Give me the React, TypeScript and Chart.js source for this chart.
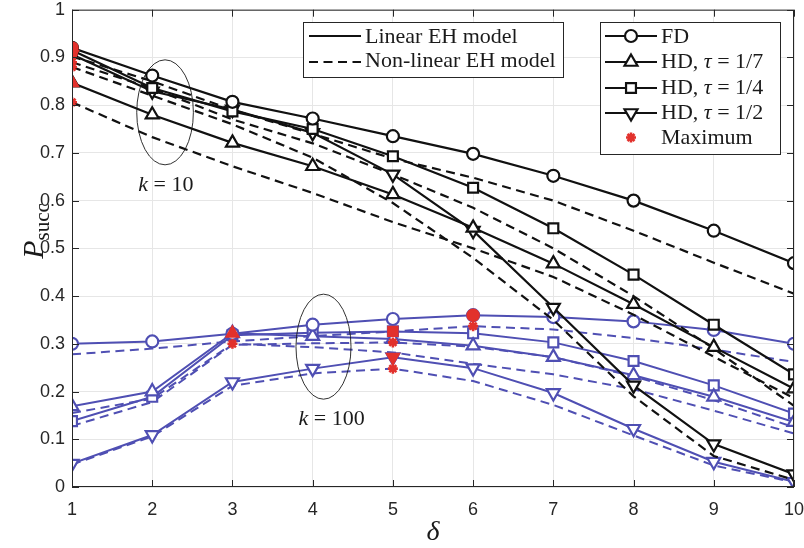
import React, { useEffect, useRef } from 'react';
import { Chart, registerables } from 'chart.js';

Chart.register(...registerables);

// ---------- data ----------
const deltas = [1, 2, 3, 4, 5, 6, 7, 8, 9, 10];
const xTickLabels = ['1', '2', '3', '4', '5', '6', '7', '8', '9', '10'];
const yTickLabels = ['0', '0.1', '0.2', '0.3', '0.4', '0.5', '0.6', '0.7', '0.8', '0.9', '1'];

// k = 10, linear EH model (solid)
const fdLin10 = [0.92, 0.862, 0.807, 0.772, 0.735, 0.698, 0.652, 0.6, 0.537, 0.469];
const hd7Lin10 = [0.847, 0.78, 0.721, 0.672, 0.613, 0.543, 0.468, 0.383, 0.293, 0.206];
const hd4Lin10 = [0.915, 0.836, 0.787, 0.75, 0.693, 0.627, 0.542, 0.445, 0.34, 0.236];
const hd2Lin10 = [0.906, 0.829, 0.791, 0.742, 0.655, 0.537, 0.376, 0.213, 0.09, 0.027];
// k = 10, non-linear EH model (dashed)
const fdNl10 = [0.902, 0.85, 0.79, 0.74, 0.688, 0.648, 0.6, 0.537, 0.47, 0.405];
const hd7Nl10 = [0.806, 0.733, 0.672, 0.616, 0.555, 0.5, 0.44, 0.361, 0.273, 0.186];
const hd4Nl10 = [0.89, 0.835, 0.77, 0.72, 0.655, 0.585, 0.5, 0.4, 0.29, 0.17];
const hd2Nl10 = [0.88, 0.82, 0.76, 0.69, 0.595, 0.48, 0.35, 0.19, 0.065, 0.015];
// k = 100, linear EH model (solid)
const fdLin100 = [0.3, 0.305, 0.321, 0.34, 0.352, 0.36, 0.356, 0.347, 0.329, 0.3];
const hd7Lin100 = [0.169, 0.2, 0.322, 0.316, 0.31, 0.296, 0.272, 0.234, 0.189, 0.136];
const hd4Lin100 = [0.138, 0.189, 0.318, 0.323, 0.326, 0.322, 0.303, 0.264, 0.213, 0.154];
const hd2Lin100 = [0.049, 0.109, 0.22, 0.248, 0.272, 0.249, 0.197, 0.122, 0.053, 0.011];
// k = 100, non-linear EH model (dashed)
const fdNl100 = [0.278, 0.29, 0.305, 0.316, 0.326, 0.337, 0.33, 0.312, 0.288, 0.262];
const hd7Nl100 = [0.155, 0.185, 0.3, 0.293, 0.282, 0.258, 0.236, 0.205, 0.16, 0.112];
const hd4Nl100 = [0.128, 0.178, 0.298, 0.301, 0.303, 0.294, 0.272, 0.232, 0.182, 0.125];
const hd2Nl100 = [0.047, 0.106, 0.212, 0.238, 0.248, 0.222, 0.172, 0.108, 0.045, 0.01];

// ---------- styles ----------
const BLACK = '#111111';
const BLUE = '#4f4fb3';
const RED = '#e2312c';
const AXIS = '#262626';
const GRID = '#e6e6e6';
const SERIF = '"Liberation Serif", "Times New Roman", serif';
const SANS = '"Liberation Sans", Arial, Helvetica, sans-serif';

type Def = { values: number[]; color: string; dashed: boolean; style: string; rot: number; r: number };

const defs: Def[] = [
  { values: fdLin10, color: BLACK, dashed: false, style: 'circle', rot: 0, r: 6 },
  { values: hd7Lin10, color: BLACK, dashed: false, style: 'triangle', rot: 0, r: 7.5 },
  { values: hd4Lin10, color: BLACK, dashed: false, style: 'rect', rot: 0, r: 7 },
  { values: hd2Lin10, color: BLACK, dashed: false, style: 'triangle', rot: 180, r: 7.5 },
  { values: fdNl10, color: BLACK, dashed: true, style: 'circle', rot: 0, r: 6 },
  { values: hd7Nl10, color: BLACK, dashed: true, style: 'triangle', rot: 0, r: 7.5 },
  { values: hd4Nl10, color: BLACK, dashed: true, style: 'rect', rot: 0, r: 7 },
  { values: hd2Nl10, color: BLACK, dashed: true, style: 'triangle', rot: 180, r: 7.5 },
  { values: fdLin100, color: BLUE, dashed: false, style: 'circle', rot: 0, r: 6 },
  { values: hd7Lin100, color: BLUE, dashed: false, style: 'triangle', rot: 0, r: 7.5 },
  { values: hd4Lin100, color: BLUE, dashed: false, style: 'rect', rot: 0, r: 7 },
  { values: hd2Lin100, color: BLUE, dashed: false, style: 'triangle', rot: 180, r: 7.5 },
  { values: fdNl100, color: BLUE, dashed: true, style: 'circle', rot: 0, r: 6 },
  { values: hd7Nl100, color: BLUE, dashed: true, style: 'triangle', rot: 0, r: 7.5 },
  { values: hd4Nl100, color: BLUE, dashed: true, style: 'rect', rot: 0, r: 7 },
  { values: hd2Nl100, color: BLUE, dashed: true, style: 'triangle', rot: 180, r: 7.5 },
];

// annotation placement (data units)
const ellipses = [
  { cx: 2.16, cy: 0.785, rx: 0.353, ry: 0.11 },
  { cx: 4.135, cy: 0.294, rx: 0.343, ry: 0.11 },
];
const kLabels = [
  { x: 2.17, y: 0.62, value: '10' },
  { x: 4.237, y: 0.129, value: '100' },
];

function argmax(a: number[]) {
  let b = 0;
  for (let i = 1; i < a.length; i++) if (a[i] > a[b]) b = i;
  return b;
}

function buildDatasets() {
  const lineSets = defs.map((d) => ({
    data: d.values.map((v, i) => ({ x: deltas[i], y: v })),
    borderColor: d.color,
    backgroundColor: '#ffffff',
    borderWidth: d.color === BLACK ? 2.2 : 2,
    borderDash: d.dashed ? [9, 5.5] : [],
    pointStyle: d.style,
    pointRotation: d.rot,
    pointRadius: d.dashed ? 0 : d.r,
    pointBorderWidth: 2.2,
    pointBackgroundColor: '#ffffff',
    pointBorderColor: d.color,
    tension: 0,
    fill: false,
    order: 2,
  }));
  const solid = defs.filter((d) => !d.dashed);
  const dashed = defs.filter((d) => d.dashed);
  const maxFilled = {
    data: solid.map((d) => {
      const i = argmax(d.values);
      return { x: deltas[i], y: d.values[i] };
    }),
    showLine: false,
    pointStyle: solid.map((d) => d.style),
    pointRotation: solid.map((d) => d.rot),
    pointRadius: solid.map((d) => d.r),
    pointBackgroundColor: RED,
    pointBorderColor: RED,
    pointBorderWidth: 1.5,
    order: 0,
  };
  const maxStars = {
    data: dashed.map((d) => {
      const i = argmax(d.values);
      return { x: deltas[i], y: d.values[i] };
    }),
    showLine: false,
    pointStyle: 'star',
    pointRadius: 5,
    pointBorderColor: RED,
    pointBackgroundColor: RED,
    pointBorderWidth: 2.6,
    order: 0,
  };
  return [maxStars, maxFilled, ...lineSets];
}

function drawMarker(ctx: CanvasRenderingContext2D, style: string, x: number, y: number, r: number, rot: number, stroke: string, fillC: string, lw: number) {
  ctx.save();
  ctx.lineWidth = lw;
  ctx.strokeStyle = stroke;
  ctx.fillStyle = fillC;
  ctx.setLineDash([]);
  ctx.beginPath();
  if (style === 'circle') {
    ctx.arc(x, y, r, 0, Math.PI * 2);
  } else if (style === 'rect') {
    const s = r * Math.SQRT1_2;
    ctx.rect(x - s, y - s, 2 * s, 2 * s);
  } else if (style === 'triangle') {
    let a = (rot * Math.PI) / 180;
    ctx.moveTo(x + Math.sin(a) * r, y - Math.cos(a) * r);
    a += (2 * Math.PI) / 3;
    ctx.lineTo(x + Math.sin(a) * r, y - Math.cos(a) * r);
    a += (2 * Math.PI) / 3;
    ctx.lineTo(x + Math.sin(a) * r, y - Math.cos(a) * r);
    ctx.closePath();
  } else if (style === 'star') {
    for (let k = 0; k < 4; k++) {
      const a = (k * Math.PI) / 4;
      ctx.moveTo(x - Math.cos(a) * r, y - Math.sin(a) * r);
      ctx.lineTo(x + Math.cos(a) * r, y + Math.sin(a) * r);
    }
  }
  if (style !== 'star') ctx.fill();
  ctx.stroke();
  ctx.restore();
}

type Part = { t: string; it?: boolean; size?: number; dy?: number };
function partsFont(p: Part, base: number) {
  return `${p.it ? 'italic ' : ''}${p.size ?? base}px ${SERIF}`;
}
function measureParts(ctx: CanvasRenderingContext2D, parts: Part[], base: number) {
  let w = 0;
  for (const p of parts) {
    ctx.font = partsFont(p, base);
    w += ctx.measureText(p.t).width;
  }
  return w;
}
function drawParts(ctx: CanvasRenderingContext2D, parts: Part[], x: number, y: number, base: number) {
  let cx = x;
  ctx.textBaseline = 'alphabetic';
  ctx.textAlign = 'left';
  for (const p of parts) {
    ctx.font = partsFont(p, base);
    ctx.fillText(p.t, cx, y + (p.dy ?? 0));
    cx += ctx.measureText(p.t).width;
  }
}

const decor = {
  id: 'decor',
  afterDatasetsDraw(chart: any) {
    const ctx: CanvasRenderingContext2D = chart.ctx;
    const xs = chart.scales.x;
    const ys = chart.scales.y;
    ctx.save();
    ctx.strokeStyle = '#1a1a1a';
    ctx.lineWidth = 0.9;
    ctx.setLineDash([]);
    for (const e of ellipses) {
      const cx = xs.getPixelForValue(e.cx);
      const cy = ys.getPixelForValue(e.cy);
      const rx = xs.getPixelForValue(e.cx + e.rx) - cx;
      const ry = cy - ys.getPixelForValue(e.cy + e.ry);
      ctx.beginPath();
      ctx.ellipse(cx, cy, rx, ry, 0, 0, Math.PI * 2);
      ctx.stroke();
    }
    ctx.fillStyle = '#1a1a1a';
    for (const k of kLabels) {
      const parts: Part[] = [{ t: 'k', it: true }, { t: ' = ' + k.value }];
      const w = measureParts(ctx, parts, 22);
      drawParts(ctx, parts, xs.getPixelForValue(k.x) - w / 2, ys.getPixelForValue(k.y), 22);
    }
    ctx.restore();
  },
  afterDraw(chart: any) {
    const ctx: CanvasRenderingContext2D = chart.ctx;
    const a = chart.chartArea;
    const xs = chart.scales.x;
    const ys = chart.scales.y;
    ctx.save();
    ctx.setLineDash([]);
    // box
    ctx.strokeStyle = AXIS;
    ctx.lineWidth = 1;
    ctx.strokeRect(a.left + 0.5, a.top + 0.5, a.right - a.left - 1, a.bottom - a.top - 1);
    // inward ticks
    ctx.beginPath();
    for (const d of deltas) {
      const px = Math.round(xs.getPixelForValue(d)) + 0.5;
      ctx.moveTo(px, a.bottom);
      ctx.lineTo(px, a.bottom - 7);
      ctx.moveTo(px, a.top);
      ctx.lineTo(px, a.top + 7);
    }
    for (let i = 0; i < yTickLabels.length; i++) {
      const py = Math.round(ys.getPixelForValue(i / 10)) + 0.5;
      ctx.moveTo(a.left, py);
      ctx.lineTo(a.left + 7, py);
      ctx.moveTo(a.right, py);
      ctx.lineTo(a.right - 7, py);
    }
    ctx.stroke();

    // legend 1: line styles
    ctx.fillStyle = '#ffffff';
    ctx.strokeStyle = AXIS;
    ctx.lineWidth = 1;
    ctx.fillRect(303, 22.5, 260, 55);
    ctx.strokeRect(303.5, 22.5, 260, 55);
    ctx.strokeStyle = BLACK;
    ctx.lineWidth = 2.2;
    ctx.beginPath();
    ctx.moveTo(309, 36);
    ctx.lineTo(361, 36);
    ctx.stroke();
    ctx.setLineDash([9, 5.5]);
    ctx.beginPath();
    ctx.moveTo(309, 62);
    ctx.lineTo(361, 62);
    ctx.stroke();
    ctx.setLineDash([]);
    ctx.fillStyle = '#1a1a1a';
    drawParts(ctx, [{ t: 'Linear EH model' }], 365, 42.5, 22);
    drawParts(ctx, [{ t: 'Non-linear EH model' }], 365, 67, 22);

    // legend 2: series
    ctx.fillStyle = '#ffffff';
    ctx.strokeStyle = AXIS;
    ctx.lineWidth = 1;
    ctx.fillRect(600, 22.5, 181, 132);
    ctx.strokeRect(600.5, 22.5, 180, 132);
    const rows: { y: number; base: number; style: string; rot: number; r: number; parts: Part[]; line: boolean }[] = [
      { y: 36, base: 42.5, style: 'circle', rot: 0, r: 6, parts: [{ t: 'FD' }], line: true },
      { y: 62, base: 68.3, style: 'triangle', rot: 0, r: 7.5, parts: [{ t: 'HD, ' }, { t: 'τ', it: true }, { t: ' = 1/7' }], line: true },
      { y: 88, base: 93.5, style: 'rect', rot: 0, r: 7, parts: [{ t: 'HD, ' }, { t: 'τ', it: true }, { t: ' = 1/4' }], line: true },
      { y: 113, base: 118.5, style: 'triangle', rot: 180, r: 7.5, parts: [{ t: 'HD, ' }, { t: 'τ', it: true }, { t: ' = 1/2' }], line: true },
      { y: 137.5, base: 144, style: 'star', rot: 0, r: 5, parts: [{ t: 'Maximum' }], line: false },
    ];
    for (const row of rows) {
      if (row.line) {
        ctx.strokeStyle = BLACK;
        ctx.lineWidth = 2.2;
        ctx.beginPath();
        ctx.moveTo(605, row.y);
        ctx.lineTo(657, row.y);
        ctx.stroke();
        drawMarker(ctx, row.style, 631, row.y, row.r, row.rot, BLACK, '#ffffff', 2.2);
      } else {
        drawMarker(ctx, 'star', 631, row.y, row.r, 0, RED, RED, 2.6);
      }
      ctx.fillStyle = '#1a1a1a';
      drawParts(ctx, row.parts, 661, row.base, 22);
    }

    // axis titles
    ctx.fillStyle = '#1a1a1a';
    const dParts: Part[] = [{ t: 'δ', it: true }];
    const dw = measureParts(ctx, dParts, 28);
    drawParts(ctx, dParts, 433 - dw / 2, 540, 28);

    ctx.save();
    ctx.translate(43, 231);
    ctx.rotate(-Math.PI / 2);
    const pParts: Part[] = [{ t: 'P', it: true, size: 30 }, { t: 'succ', size: 21, dy: 6 }];
    const pw = measureParts(ctx, pParts, 30);
    drawParts(ctx, pParts, -pw / 2, 0, 30);
    ctx.restore();

    ctx.restore();
  },
};

export default function App() {
  const ref = useRef<HTMLCanvasElement>(null);
  useEffect(() => {
    if (!ref.current) return;
    const chart = new Chart(ref.current, {
      type: 'line',
      data: { datasets: buildDatasets() as any },
      options: {
        responsive: false,
        animation: false,
        devicePixelRatio: 1,
        layout: { padding: { left: 0, right: 10, top: 8, bottom: 0 } },
        plugins: { legend: { display: false }, tooltip: { enabled: false } },
        elements: { line: { tension: 0 } },
        scales: {
          x: {
            type: 'linear',
            min: 1,
            max: 10,
            afterFit: (s: any) => {
              s.height = 61;
              s.paddingLeft = 0;
              s.paddingRight = 0;
            },
            ticks: {
              stepSize: 1,
              padding: 12,
              color: AXIS,
              font: { family: SANS, size: 18 },
              maxRotation: 0,
              autoSkip: false,
              callback: (v: any) => {
                const i = deltas.indexOf(Number(v));
                return i >= 0 ? xTickLabels[i] : '';
              },
            },
            grid: { color: GRID, lineWidth: 1, drawTicks: false },
            border: { display: false },
          },
          y: {
            type: 'linear',
            min: 0,
            max: 1,
            afterFit: (s: any) => {
              s.width = 72;
              s.paddingTop = 0;
              s.paddingBottom = 0;
            },
            ticks: {
              stepSize: 0.1,
              padding: 7,
              color: AXIS,
              font: { family: SANS, size: 18 },
              autoSkip: false,
              callback: (v: any) => yTickLabels[Math.round(Number(v) * 10)] ?? '',
            },
            grid: { color: GRID, lineWidth: 1, drawTicks: false },
            border: { display: false },
          },
        },
      } as any,
      plugins: [decor],
    });
    return () => chart.destroy();
  }, []);
  return (
    <div style={{ position: 'absolute', left: 0, top: 0, width: 804, height: 548, background: '#ffffff' }}>
      <canvas ref={ref} width={804} height={548} style={{ display: 'block', width: 804, height: 548 }} />
    </div>
  );
}
